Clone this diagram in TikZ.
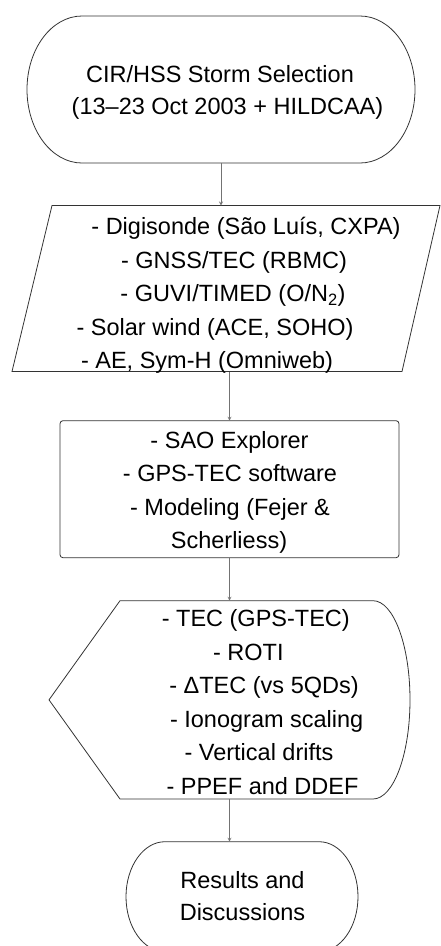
\documentclass[tikz,border=0pt]{standalone}
\usepackage{fontspec}
\setmainfont{Liberation Sans}
\usetikzlibrary{arrows}

\begin{document}
\begin{tikzpicture}[>=stealth, x=1pt, y=-1pt,
  shape line/.style={draw=black!80, line width=0.8pt},
  flow/.style={->, draw=black!55, line width=0.8pt},
  frame/.style={inner sep=0pt, outer sep=0pt},
  txt/.style={anchor=base, inner sep=0pt, font=\fontsize{23.5}{33}\selectfont}]
  \useasboundingbox (0,0) rectangle (441,946);
  \clip (0,0) rectangle (441,946);

  % frames of the five blocks
  \node[frame, minimum width=388pt, minimum height=147pt] (storm) at (221,89.5) {};
  \node[frame, minimum width=428pt, minimum height=166pt] (data) at (226,288.5) {};
  \node[frame, minimum width=339pt, minimum height=137pt] (tools) at (229.5,489.2) {};
  \node[frame, minimum width=361pt, minimum height=198.3pt] (metrics) at (229.5,699.85) {};
  \node[frame, minimum width=232pt, minimum height=110pt] (results) at (242,896.7) {};

  % outlines
  \draw[shape line] ([xshift=55pt]storm.north west) -- ([xshift=-55pt]storm.north east)
    arc[start angle=90, end angle=-90, x radius=55pt, y radius=73.5pt]
    -- ([xshift=55pt]storm.south west)
    arc[start angle=270, end angle=90, x radius=55pt, y radius=73.5pt] -- cycle;
  \draw[shape line] (52,205.5) -- (440,205.5) -- (402,371.5) -- (12,371.5) -- cycle;
  \draw[shape line, rounded corners=3pt] (tools.north west) rectangle (tools.south east);
  \draw[shape line] (120,600.7) -- (373,600.7)
    arc[start angle=90, end angle=-90, x radius=37pt, y radius=99.15pt]
    -- (120,799) -- (metrics.west) -- cycle;
  \draw[shape line] ([xshift=39pt]results.north west) -- ([xshift=-39pt]results.north east)
    arc[start angle=90, end angle=-90, x radius=39pt, y radius=55pt]
    -- ([xshift=39pt]results.south west)
    arc[start angle=270, end angle=90, x radius=39pt, y radius=55pt] -- cycle;

  % texts
  \foreach \cx/\by/\txt [count=\i] in {220/82.3/{CIR/HSS Storm Selection},
      227.5/114.5/{(13--23 Oct 2003 + HILDCAA)}}
    \node[txt] (storm-\i) at (\cx,\by) {\txt};
  \foreach \cx/\by/\txt [count=\i] in {246/234.3/{- Digisonde (São Luís, CXPA)},
      234/268/{- GNSS/TEC (RBMC)}, 233/301.6/{- GUVI/TIMED (O/N\textsubscript{2})},
      215/335.2/{- Solar wind (ACE, SOHO)}, 207/368.6/{- AE, Sym-H (Omniweb)}}
    \node[txt] (data-\i) at (\cx,\by) {\txt};
  \foreach \cx/\by/\txt [count=\i] in {229.5/448.3/{- SAO Explorer},
      230/481.7/{- GPS-TEC software}, 230/515/{- Modeling (Fejer \&},
      229/548.3/{Scherliess)}}
    \node[txt] (tools-\i) at (\cx,\by) {\txt};
  \foreach \cx/\by/\txt [count=\i] in {255.8/626.7/{- TEC (GPS-TEC)},
      248.3/660/{- ROTI}, 264/693.5/{- ΔTEC (vs 5QDs)},
      266.7/727/{- Ionogram scaling}, 259/760.5/{- Vertical drifts},
      262.5/794/{- PPEF and DDEF}}
    \node[txt] (metrics-\i) at (\cx,\by) {\txt};
  \foreach \cx/\by/\txt [count=\i] in {242.5/888.3/{Results and},
      242.5/920.7/{Discussions}}
    \node[txt] (results-\i) at (\cx,\by) {\txt};

  % connectors
  \draw[flow] (storm.south) -- (storm.south |- data.north);
  \draw[flow] (tools.north |- data.south) -- (tools.north);
  \draw[flow] (tools.south) -- (metrics.north);
  \draw[flow] (metrics.south) -- (metrics.south |- results.north);
\end{tikzpicture}
\end{document}
